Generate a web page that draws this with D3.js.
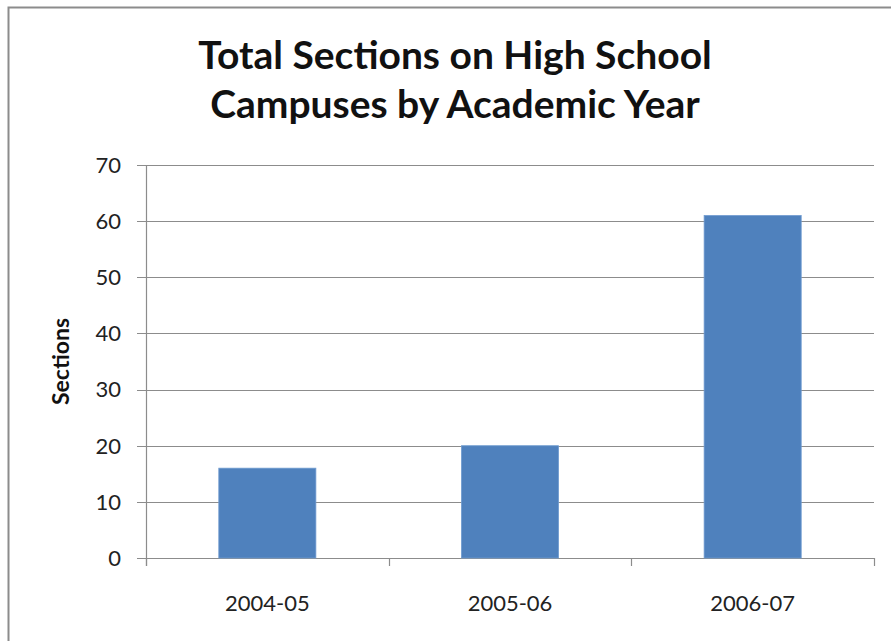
<!DOCTYPE html>
<html>
<head>
<meta charset="utf-8">
<script src="https://cdn.jsdelivr.net/npm/d3@7"></script>
<style>
  body { margin: 0; background: #fff; }
  text { font-family: Lato, "Open Sans", sans-serif; }
</style>
</head>
<body>
<div id="chart"></div>
<script>
        var width = 891, height = 641;

        // data
        var years = ["2004-05", "2005-06", "2006-07"];
        var sections = [16, 20, 61];
        var yTicks = [0, 10, 20, 30, 40, 50, 60, 70];
        var titleLines = ["Total Sections on High School", "Campuses by Academic Year"];

        var margin = {left: 146, right: 17, top: 165, bottom: 83};

        var svg = d3.select("#chart")
                    .append("svg")
                    .attr("width", width)
                    .attr("height", height);

        // outer chart border
        svg.append("rect")
           .attr("x", 8.5).attr("y", 7.5)
           .attr("width", width + 20).attr("height", height + 20)
           .attr("fill", "white")
           .attr("stroke", "#8c8c8c")
           .attr("stroke-width", 2);

        var x = d3.scaleBand()
                  .domain(years)
                  .range([margin.left, width - margin.right])
                  .paddingInner(0.6)
                  .paddingOuter(0.3);

        var y = d3.scaleLinear()
                  .domain([0, 70])
                  .range([height - margin.bottom, margin.top]);

        // gridlines
        svg.append("g")
           .selectAll("line")
           .data(yTicks)
           .enter()
           .append("line")
           .attr("x1", margin.left - 9)
           .attr("x2", width - margin.right)
           .attr("y1", d => Math.round(y(d)) + 0.5)
           .attr("y2", d => Math.round(y(d)) + 0.5)
           .attr("stroke", "#8c8c8c")
           .attr("stroke-width", 1.2);

        // y tick labels
        svg.append("g")
           .selectAll("text")
           .data(yTicks)
           .enter()
           .append("text")
           .attr("x", 121)
           .attr("y", d => y(d))
           .attr("dy", "0.36em")
           .attr("text-anchor", "end")
           .attr("font-size", 22)
           .attr("fill", "#222")
           .text(d => d);

        // bars
        svg.append("g")
           .selectAll("rect")
           .data(sections)
           .enter()
           .append("rect")
           .attr("x", (d, i) => x(years[i]))
           .attr("width", x.bandwidth())
           .attr("y", d => y(d))
           .attr("height", d => y(0) - y(d))
           .attr("fill", "#4f81bd")
           .attr("stroke", "#6f9bd0")
           .attr("stroke-width", 0.8);

        // axis lines and category ticks
        var bounds = [0, 1, 2, 3].map(i => margin.left + i * (width - margin.left - margin.right) / 3);
        svg.append("line")
           .attr("x1", margin.left + 0.5).attr("x2", margin.left + 0.5)
           .attr("y1", margin.top).attr("y2", y(0) + 8)
           .attr("stroke", "#8c8c8c").attr("stroke-width", 1.2);
        svg.append("g")
           .selectAll("line")
           .data(bounds)
           .enter()
           .append("line")
           .attr("x1", d => Math.round(d) + 0.5)
           .attr("x2", d => Math.round(d) + 0.5)
           .attr("y1", y(0))
           .attr("y2", y(0) + 8)
           .attr("stroke", "#8c8c8c")
           .attr("stroke-width", 1.2);

        // x labels
        svg.append("g")
           .selectAll("text")
           .data(years)
           .enter()
           .append("text")
           .attr("x", d => x(d) + x.bandwidth() / 2)
           .attr("y", 611)
           .attr("text-anchor", "middle")
           .attr("font-size", 22)
           .attr("fill", "#222")
           .text(d => d);

        // y axis title
        svg.append("text")
           .attr("transform", "translate(69," + ((margin.top + y(0)) / 2) + ") rotate(-90)")
           .attr("text-anchor", "middle")
           .attr("font-size", 23)
           .attr("font-weight", "bold")
           .attr("fill", "#111")
           .text("Sections");

        // title
        svg.append("g")
           .selectAll("text")
           .data(titleLines)
           .enter()
           .append("text")
           .attr("x", 455)
           .attr("y", (d, i) => 69 + i * 49)
           .attr("text-anchor", "middle")
           .attr("font-size", 39)
           .attr("font-weight", "bold")
           .attr("fill", "#111")
           .text(d => d);
</script>
</body>
</html>
